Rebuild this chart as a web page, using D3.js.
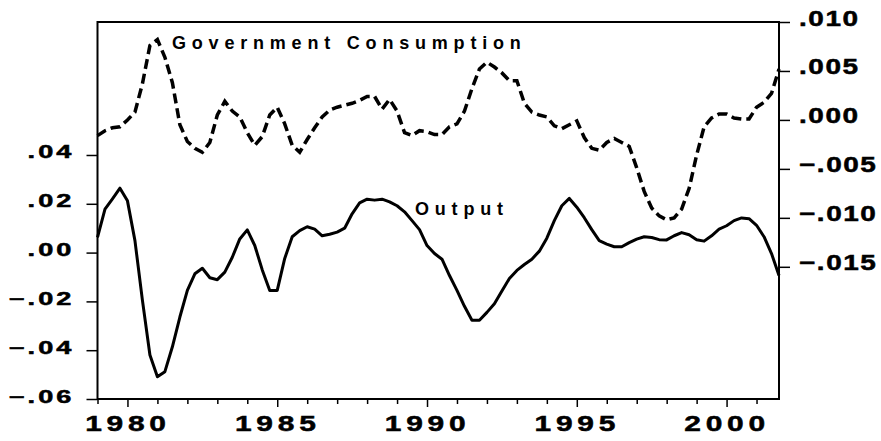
<!DOCTYPE html>
<html>
<head>
<meta charset="utf-8">
<script src="https://cdnjs.cloudflare.com/ajax/libs/d3/7.8.5/d3.min.js"></script>
<style>
    body { margin: 0; background: #fff; }
    svg { display: block; font-family: "Liberation Sans", Arial, sans-serif; font-weight: bold; }
</style>
</head>
<body>
<svg id="chart"></svg>
<script>
// quarterly observations, 1979Q1 .. 2001Q4
let startYear = 1979;
let endYear = 2001;

// output gap (left axis)
let output = [
    0.0062, 0.0178, 0.0220, 0.0264,
    0.0212, 0.0049, -0.0196, -0.0420,
    -0.0509, -0.0488, -0.0386, -0.0264,
    -0.0155, -0.0087, -0.0064, -0.0103,
    -0.0111, -0.0080, -0.0019, 0.0056,
    0.0093, 0.0029, -0.0071, -0.0155,
    -0.0155, -0.0024, 0.0065, 0.0090,
    0.0106, 0.0096, 0.0069, 0.0075,
    0.0084, 0.0100, 0.0159, 0.0204,
    0.0219, 0.0215, 0.0219, 0.0208,
    0.0192, 0.0167, 0.0131, 0.0094,
    0.0029, -0.0004, -0.0027, -0.0094,
    -0.0155, -0.0220, -0.0277, -0.0277,
    -0.0245, -0.0210, -0.0157, -0.0106,
    -0.0073, -0.0049, -0.0027, 0.0006,
    0.0059, 0.0131, 0.0192, 0.0222,
    0.0186, 0.0143, 0.0094, 0.0049,
    0.0035, 0.0024, 0.0024, 0.0041,
    0.0055, 0.0065, 0.0062, 0.0053,
    0.0052, 0.0069, 0.0082, 0.0073,
    0.0053, 0.0047, 0.0069, 0.0096,
    0.0110, 0.0131, 0.0142, 0.0139,
    0.0112, 0.0065, -0.0004, -0.0094
];

// government consumption gap (right axis)
let govCons = [
    -0.0016, -0.0011, -0.0008, -0.0007,
    0.0000, 0.0008, 0.0037, 0.0076,
    0.0082, 0.0064, 0.0038, -0.0005,
    -0.0022, -0.0029, -0.0033, -0.0023,
    0.0005, 0.0019, 0.0009, 0.0003,
    -0.0013, -0.0026, -0.0017, 0.0005,
    0.0013, -0.0004, -0.0026, -0.0033,
    -0.0020, -0.0008, 0.0003, 0.0010,
    0.0013, 0.0015, 0.0017, 0.0020,
    0.0024, 0.0024, 0.0011, 0.0021,
    0.0009, -0.0013, -0.0016, -0.0011,
    -0.0012, -0.0015, -0.0015, -0.0007,
    -0.0004, 0.0009, 0.0032, 0.0052,
    0.0059, 0.0054, 0.0048, 0.0040,
    0.0040, 0.0017, 0.0008, 0.0005,
    0.0003, -0.0006, -0.0009, -0.0005,
    -0.0001, -0.0018, -0.0029, -0.0031,
    -0.0023, -0.0019, -0.0023, -0.0027,
    -0.0049, -0.0073, -0.0090, -0.0098,
    -0.0102, -0.0100, -0.0091, -0.0070,
    -0.0036, -0.0007, 0.0002, 0.0006,
    0.0006, 0.0002, 0.0001, 0.0001,
    0.0013, 0.0018, 0.0027, 0.0052
];

let leftTicks = [-0.06, -0.04, -0.02, 0.00, 0.02, 0.04];
let rightTicks = [-0.015, -0.010, -0.005, 0.000, 0.005, 0.010];
let yearTicks = d3.range(startYear, endYear + 1);
let yearLabels = [1980, 1985, 1990, 1995, 2000];

let width = 881;
let height = 441;

let margin = { top: 22, right: 102, bottom: 42, left: 97.5 };

let svg = d3.select("#chart")
    .attr("width", width)
    .attr("height", height);

let x = d3.scaleLinear()
    .domain([startYear, endYear + 0.75])
    .range([margin.left, width - margin.right]);

let yLeft = d3.scaleLinear()
    .domain([-0.06, 0.0945])
    .range([height - margin.bottom, margin.top]);

let yRight = d3.scaleLinear()
    .domain([-0.0285, 0.010])
    .range([height - margin.bottom, margin.top]);

// ".04" style labels, no leading zero
function noZero(fmt) {
    let f = d3.format(fmt);
    return d => f(d).replace("0.", ".");
}

let quarter = (d, i) => startYear + i / 4;

// --- axes ---
let bottomAxis = d3.axisBottom(x)
    .tickValues(yearTicks)
    .tickSize(5)
    .tickFormat(d => yearLabels.includes(d) ? d : "");

let gx = svg.append("g")
    .attr("transform", "translate(0," + (height - margin.bottom) + ")")
    .call(bottomAxis);

gx.selectAll(".tick line")
    .filter(d => yearLabels.includes(d))
    .attr("y2", 8);

gx.selectAll(".tick text")
    .attr("y", 32)
    .attr("dy", 0)
    .attr("font-size", 22)
    .attr("letter-spacing", 3.5)
    .attr("transform", "scale(1.36,1)");

let leftAxis = d3.axisLeft(yLeft)
    .tickValues(leftTicks)
    .tickSize(11)
    .tickFormat(noZero(".2f"));

let gl = svg.append("g")
    .attr("transform", "translate(" + margin.left + ",0)")
    .call(leftAxis);

gl.selectAll(".tick text")
    .attr("x", -23 / 1.55)
    .attr("dy", 3)
    .attr("font-size", 17.5)
    .attr("letter-spacing", 2)
    .attr("transform", "scale(1.55,1)");

let rightAxis = d3.axisRight(yRight)
    .tickValues(rightTicks)
    .tickSize(11)
    .tickFormat(noZero(".3f"));

let gr = svg.append("g")
    .attr("transform", "translate(" + (width - margin.right) + ",0)")
    .call(rightAxis);

gr.selectAll(".tick text")
    .attr("x", 20 / 1.3)
    .attr("dy", 3)
    .attr("font-size", 21.5)
    .attr("letter-spacing", 1.2)
    .attr("transform", "scale(1.3,1)");

svg.selectAll(".domain").remove();
svg.selectAll(".tick line")
    .attr("stroke", "#000")
    .attr("stroke-width", 1.5);
svg.selectAll(".tick text")
    .attr("fill", "#000")
    .attr("stroke", "#000")
    .attr("stroke-width", 0.5)
    .attr("font-family", "Liberation Sans, Arial, sans-serif")
    .attr("font-weight", "bold");

// plot frame
svg.append("rect")
    .attr("x", margin.left)
    .attr("y", margin.top)
    .attr("width", width - margin.right - margin.left)
    .attr("height", height - margin.bottom - margin.top)
    .attr("fill", "none")
    .attr("stroke", "#000")
    .attr("stroke-width", 2);

// --- series ---
let lineLeft = d3.line()
    .x((d, i) => x(quarter(d, i)))
    .y(d => yLeft(d));

let lineRight = d3.line()
    .x((d, i) => x(quarter(d, i)))
    .y(d => yRight(d));

svg.append("path")
    .datum(govCons)
    .attr("d", lineRight)
    .attr("fill", "none")
    .attr("stroke", "#000")
    .attr("stroke-width", 3.5)
    .attr("stroke-dasharray", "10,5");

svg.append("path")
    .datum(output)
    .attr("d", lineLeft)
    .attr("fill", "none")
    .attr("stroke", "#000")
    .attr("stroke-width", 3)
    .attr("stroke-linejoin", "round");

// series labels
svg.append("text")
    .attr("x", 172)
    .attr("y", 49)
    .attr("font-size", 18)
    .attr("letter-spacing", 5.8)
    .text("Government Consumption");

svg.append("text")
    .attr("x", 415)
    .attr("y", 215)
    .attr("font-size", 18)
    .attr("letter-spacing", 5.8)
    .text("Output");
</script>
</body>
</html>
